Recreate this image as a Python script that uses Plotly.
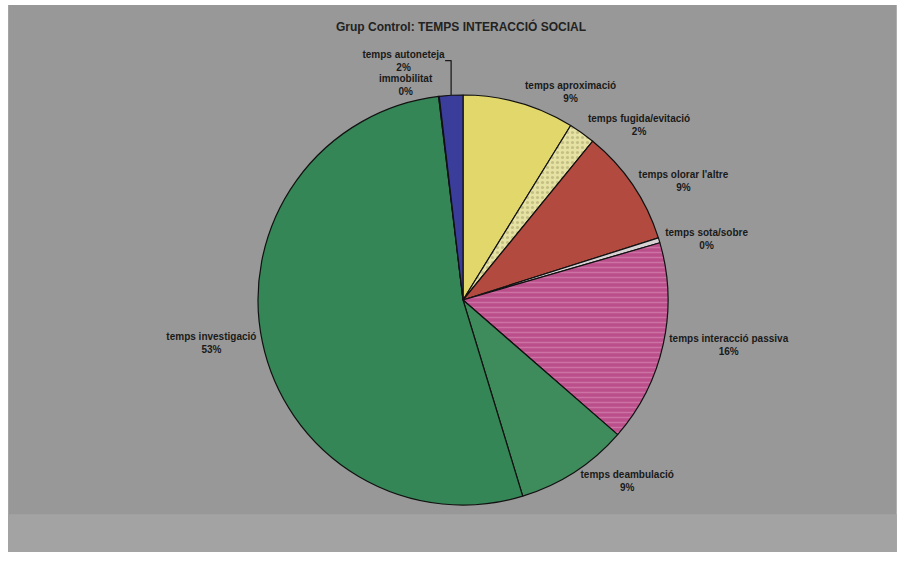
import plotly.graph_objects as go

# Social-interaction time shares for the control group (clockwise from 12 o'clock)
categories = [
    "temps aproximació",
    "temps fugida/evitació",
    "temps olorar l'altre",
    "temps sota/sobre",
    "temps interacció passiva",
    "temps deambulació",
    "temps investigació",
    "immobilitat",
    "temps autoneteja",
]
shares = [8.8, 2.1, 9.2, 0.4, 15.9, 8.9, 52.8, 0.05, 1.85]
slice_colors = [
    "#e2d76a", "#e6e2a4", "#b24a3f", "#d9d2d4", "#bb4f8b",
    "#3e8b5b", "#348656", "#3b3d9a", "#3b3d9a",
]
slice_patterns = ["", ".", "", "", "-", "", "", "", ""]
pattern_fg = [
    "#e2d76a", "#c4bf82", "#b24a3f", "#d9d2d4", "#cc72a4",
    "#3e8b5b", "#348656", "#3b3d9a", "#3b3d9a",
]

title_text = "Grup Control: TEMPS INTERACCIÓ SOCIAL"
label_font = "Liberation Sans Narrow, Liberation Sans, Arial, sans-serif"

fig = go.Figure(
    go.Pie(
        labels=categories,
        values=shares,
        sort=False,
        direction="clockwise",
        rotation=0,
        marker=dict(
            colors=slice_colors,
            line=dict(color="#111111", width=1.2),
            pattern=dict(shape=slice_patterns, fgcolor=pattern_fg,
                         bgcolor=slice_colors, fillmode="replace",
                         size=5, solidity=0.3),
        ),
        texttemplate="<b>%{label}</b><br><b>%{percent:.0%}</b>",
        textposition="outside",
        textfont=dict(family=label_font, size=10, color="#1a1a1a"),
        domain=dict(x=[0.2854, 0.739], y=[0.1014, 0.831]),
        showlegend=False,
        automargin=False,
    )
)

fig.update_layout(
    width=904,
    height=562,
    margin=dict(l=0, r=0, t=0, b=0),
    paper_bgcolor="white",
    plot_bgcolor="white",
    shapes=[
        dict(type="rect", xref="paper", yref="paper", x0=0.009, x1=0.992,
             y0=0.018, y1=0.991, fillcolor="#989898", line=dict(width=0),
             layer="below"),
        dict(type="rect", xref="paper", yref="paper", x0=0.009, x1=0.992,
             y0=0.018, y1=0.085, fillcolor="#a3a3a3", line=dict(width=0),
             layer="below"),
    ],
    annotations=[
        dict(text="<b>" + title_text + "</b>", xref="paper", yref="paper",
             x=0.51, y=0.952, yanchor="middle", showarrow=False,
             font=dict(family=label_font, size=12, color="#222222")),
    ],
)

fig.write_html("out.html")
